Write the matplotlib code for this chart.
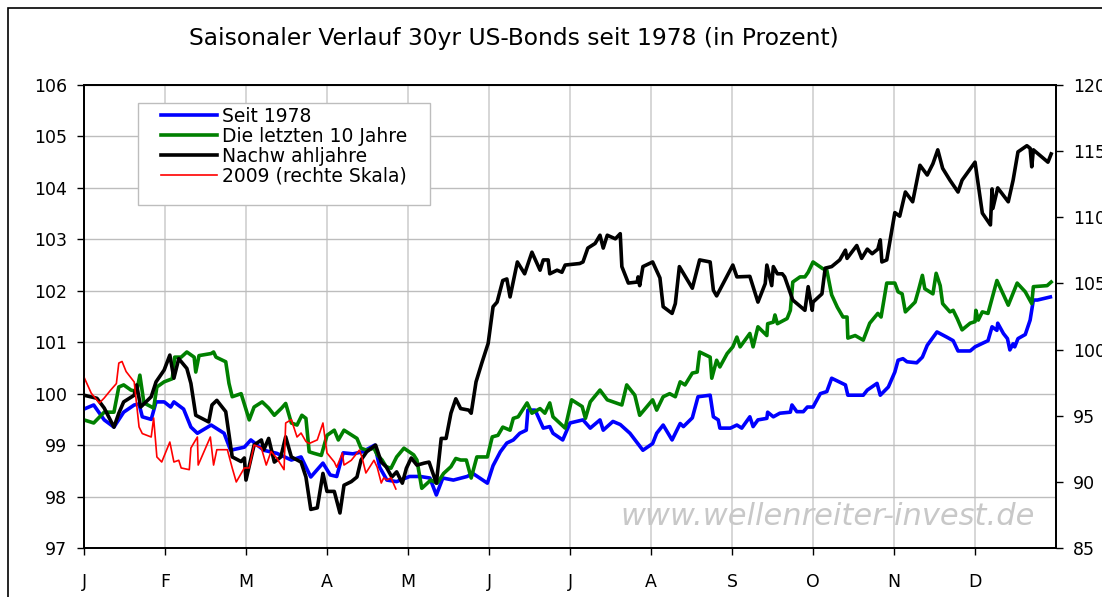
import matplotlib
matplotlib.use("Agg")
import matplotlib.pyplot as plt
from matplotlib.patches import Rectangle

# x values are in months since 1 January (0 = Jan 1, 12 = Dec 31)
months = ["J", "F", "M", "A", "M", "J", "J", "A", "S", "O", "N", "D"]

seit1978_x = [0.00, 0.12, 0.25, 0.37, 0.49, 0.62, 0.68, 0.72, 0.83, 0.89,
              0.99, 1.07, 1.11, 1.23, 1.32, 1.40, 1.57, 1.73, 1.81, 1.98,
              2.06, 2.22, 2.38, 2.56, 2.68, 2.80, 2.95, 3.04, 3.12, 3.20,
              3.32, 3.44, 3.59, 3.65, 3.74, 3.86, 4.02, 4.15, 4.27, 4.35,
              4.43, 4.56, 4.73, 4.80, 4.98, 5.05, 5.14, 5.22, 5.30, 5.38,
              5.46, 5.48, 5.57, 5.67, 5.75, 5.79, 5.91, 6.00, 6.16, 6.25,
              6.37, 6.41, 6.53, 6.62, 6.74, 6.90, 7.02, 7.07, 7.15, 7.26,
              7.36, 7.40, 7.51, 7.58, 7.73, 7.77, 7.83, 7.85, 7.98, 8.06,
              8.12, 8.22, 8.26, 8.32, 8.43, 8.44, 8.51, 8.59, 8.72, 8.74,
              8.80, 8.88, 8.93, 9.00, 9.09, 9.17, 9.23, 9.40, 9.43, 9.62,
              9.67, 9.79, 9.83, 9.93, 10.01, 10.05, 10.11, 10.16, 10.28, 10.35,
              10.41, 10.53, 10.65, 10.73, 10.79, 10.94, 11.00, 11.16, 11.21, 11.27,
              11.28, 11.35, 11.40, 11.43, 11.47, 11.49, 11.53, 11.62, 11.68, 11.72,
              11.77, 11.93]
seit1978_y = [99.70, 99.78, 99.49, 99.35, 99.64, 99.78, 99.80, 99.55, 99.50, 99.84,
              99.84, 99.74, 99.84, 99.70, 99.35, 99.23, 99.39, 99.23, 98.90, 98.96,
              99.10, 98.90, 98.84, 98.71, 98.77, 98.38, 98.65, 98.42, 98.39, 98.85,
              98.83, 98.87, 99.00, 98.57, 98.32, 98.29, 98.39, 98.39, 98.36, 98.03,
              98.36, 98.32, 98.39, 98.45, 98.26, 98.60, 98.87, 99.04, 99.10, 99.23,
              99.29, 99.68, 99.68, 99.33, 99.36, 99.23, 99.10, 99.43, 99.49, 99.33,
              99.49, 99.29, 99.46, 99.40, 99.23, 98.90, 99.03, 99.23, 99.39, 99.10,
              99.42, 99.36, 99.53, 99.94, 99.97, 99.55, 99.49, 99.33, 99.33, 99.39,
              99.33, 99.55, 99.36, 99.49, 99.52, 99.64, 99.55, 99.62, 99.64, 99.78,
              99.65, 99.65, 99.74, 99.74, 100.00, 100.04, 100.30, 100.17, 99.97, 99.97,
              100.07, 100.20, 99.97, 100.13, 100.42, 100.65, 100.68, 100.62, 100.60, 100.71,
              100.94, 101.20, 101.10, 101.03, 100.83, 100.83, 100.91, 101.03, 101.30, 101.23,
              101.37, 101.17, 101.07, 100.85, 100.97, 100.91, 101.07, 101.15, 101.43, 101.82,
              101.82, 101.88]

zehn_x = [0.00, 0.12, 0.25, 0.37, 0.43, 0.49, 0.58, 0.65, 0.69, 0.74,
          0.86, 0.90, 0.99, 1.09, 1.12, 1.20, 1.27, 1.36, 1.38, 1.42,
          1.57, 1.60, 1.63, 1.75, 1.79, 1.83, 1.94, 2.04, 2.10, 2.20,
          2.28, 2.35, 2.44, 2.49, 2.56, 2.63, 2.69, 2.74, 2.78, 2.84,
          2.93, 3.00, 3.09, 3.14, 3.21, 3.37, 3.42, 3.49, 3.58, 3.62,
          3.68, 3.73, 3.79, 3.86, 3.95, 4.07, 4.11, 4.17, 4.28, 4.36,
          4.44, 4.53, 4.59, 4.65, 4.72, 4.78, 4.85, 4.98, 5.04, 5.11,
          5.17, 5.26, 5.30, 5.36, 5.47, 5.53, 5.63, 5.69, 5.75, 5.79,
          5.94, 6.02, 6.15, 6.19, 6.25, 6.37, 6.46, 6.64, 6.70, 6.80,
          6.86, 6.95, 7.02, 7.07, 7.15, 7.23, 7.30, 7.36, 7.42, 7.51,
          7.57, 7.60, 7.73, 7.75, 7.81, 7.85, 7.94, 8.01, 8.06, 8.10,
          8.22, 8.26, 8.32, 8.43, 8.44, 8.51, 8.53, 8.56, 8.68, 8.72,
          8.75, 8.84, 8.90, 8.94, 9.00, 9.12, 9.17, 9.23, 9.30, 9.37,
          9.42, 9.43, 9.52, 9.62, 9.70, 9.80, 9.84, 9.91, 10.01, 10.05,
          10.10, 10.14, 10.26, 10.30, 10.35, 10.38, 10.48, 10.52, 10.57, 10.60,
          10.69, 10.73, 10.78, 10.84, 10.94, 11.00, 11.01, 11.04, 11.09, 11.16,
          11.27, 11.41, 11.52, 11.62, 11.70, 11.72, 11.89, 11.94]
zehn_y = [99.49, 99.43, 99.64, 99.64, 100.13, 100.17, 100.07, 100.04, 100.36, 99.82,
          99.72, 100.13, 100.23, 100.29, 100.71, 100.71, 100.81, 100.71, 100.42, 100.74,
          100.78, 100.81, 100.71, 100.62, 100.20, 99.94, 100.00, 99.49, 99.74, 99.84,
          99.72, 99.58, 99.72, 99.81, 99.43, 99.39, 99.58, 99.52, 98.87, 98.84,
          98.80, 99.19, 99.29, 99.10, 99.29, 99.13, 98.94, 98.90, 98.94, 98.81,
          98.71, 98.58, 98.55, 98.77, 98.94, 98.81, 98.71, 98.16, 98.32, 98.26,
          98.45, 98.58, 98.74, 98.71, 98.71, 98.36, 98.77, 98.77, 99.16, 99.19,
          99.35, 99.29, 99.52, 99.55, 99.82, 99.62, 99.71, 99.62, 99.82, 99.55,
          99.33, 99.88, 99.75, 99.52, 99.84, 100.07, 99.88, 99.78, 100.17, 99.97,
          99.58, 99.75, 99.88, 99.68, 99.94, 100.00, 99.94, 100.23, 100.17, 100.40,
          100.42, 100.81, 100.71, 100.30, 100.65, 100.52, 100.78, 100.91, 101.10, 100.91,
          101.17, 100.91, 101.30, 101.13, 101.36, 101.39, 101.53, 101.36, 101.46, 101.62,
          102.17, 102.27, 102.27, 102.36, 102.56, 102.43, 102.40, 101.92, 101.68, 101.49,
          101.49, 101.08, 101.13, 101.04, 101.37, 101.56, 101.49, 102.15, 102.15, 101.98,
          101.94, 101.59, 101.78, 102.00, 102.30, 102.04, 101.94, 102.34, 102.10, 101.75,
          101.59, 101.62, 101.46, 101.24, 101.37, 101.40, 101.62, 101.43, 101.59, 101.56,
          102.20, 101.72, 102.15, 101.98, 101.75, 102.08, 102.10, 102.17]

wahl_x = [0.00, 0.16, 0.25, 0.37, 0.43, 0.49, 0.62, 0.65, 0.70, 0.83,
          0.89, 0.99, 1.06, 1.11, 1.17, 1.27, 1.32, 1.38, 1.54, 1.58,
          1.64, 1.75, 1.83, 1.94, 1.98, 2.00, 2.10, 2.19, 2.22, 2.28,
          2.35, 2.43, 2.49, 2.56, 2.68, 2.74, 2.80, 2.88, 2.95, 3.00,
          3.09, 3.16, 3.21, 3.30, 3.37, 3.42, 3.49, 3.60, 3.67, 3.73,
          3.80, 3.86, 3.93, 3.98, 4.04, 4.11, 4.20, 4.26, 4.35, 4.41,
          4.47, 4.53, 4.59, 4.65, 4.75, 4.78, 4.84, 4.91, 4.99, 5.05,
          5.10, 5.17, 5.22, 5.26, 5.35, 5.44, 5.53, 5.63, 5.67, 5.73,
          5.75, 5.84, 5.90, 5.94, 6.12, 6.16, 6.22, 6.31, 6.37, 6.41,
          6.46, 6.56, 6.62, 6.64, 6.72, 6.83, 6.84, 6.86, 6.90, 7.02,
          7.11, 7.15, 7.26, 7.30, 7.35, 7.51, 7.60, 7.73, 7.77, 7.81,
          8.01, 8.06, 8.22, 8.32, 8.41, 8.43, 8.49, 8.51, 8.56, 8.62,
          8.65, 8.75, 8.90, 8.94, 8.99, 9.00, 9.11, 9.15, 9.23, 9.33,
          9.40, 9.42, 9.54, 9.60, 9.67, 9.73, 9.80, 9.83, 9.85, 9.91,
          10.01, 10.07, 10.14, 10.23, 10.32, 10.41, 10.48, 10.54, 10.60, 10.69,
          10.79, 10.84, 11.00, 11.09, 11.19, 11.21, 11.22, 11.28, 11.41, 11.47,
          11.53, 11.64, 11.68, 11.70, 11.72, 11.90, 11.94]
wahl_y = [99.97, 99.91, 99.72, 99.35, 99.62, 99.84, 99.97, 100.17, 99.74, 99.94,
          100.23, 100.46, 100.75, 100.30, 100.68, 100.49, 100.20, 99.58, 99.45, 99.78,
          99.87, 99.65, 98.77, 98.68, 98.75, 98.32, 99.00, 99.10, 98.91, 99.13,
          98.67, 98.77, 99.16, 98.77, 98.67, 98.38, 97.75, 97.78, 98.45, 98.10,
          98.10, 97.68, 98.22, 98.29, 98.38, 98.71, 98.87, 99.00, 98.67, 98.58,
          98.38, 98.48, 98.26, 98.55, 98.75, 98.61, 98.65, 98.67, 98.26, 99.13,
          99.13, 99.62, 99.90, 99.71, 99.68, 99.62, 100.23, 100.59, 100.98, 101.69,
          101.78, 102.20, 102.23, 101.88, 102.56, 102.33, 102.75, 102.40, 102.60, 102.60,
          102.33, 102.40, 102.36, 102.50, 102.53, 102.56, 102.83, 102.92, 103.08, 102.83,
          103.08, 103.01, 103.11, 102.47, 102.15, 102.17, 102.27, 102.10, 102.47, 102.56,
          102.25, 101.69, 101.56, 101.75, 102.47, 102.05, 102.60, 102.56, 102.01, 101.90,
          102.50, 102.27, 102.28, 101.78, 102.14, 102.50, 102.10, 102.47, 102.33, 102.33,
          102.27, 101.82, 101.62, 102.08, 101.62, 101.78, 101.94, 102.44, 102.47, 102.60,
          102.79, 102.63, 102.88, 102.63, 102.81, 102.72, 102.81, 102.99, 102.56, 102.60,
          103.52, 103.45, 103.92, 103.73, 104.44, 104.25, 104.47, 104.74, 104.38, 104.15,
          103.92, 104.15, 104.50, 103.51, 103.28, 103.98, 103.60, 104.00, 103.73, 104.15,
          104.70, 104.82, 104.77, 104.41, 104.74, 104.50, 104.66]

# 2009, plotted against the right-hand scale
y2009_x = [0.00, 0.09, 0.19, 0.25, 0.33, 0.40, 0.43, 0.47, 0.52, 0.62,
           0.68, 0.72, 0.83, 0.86, 0.90, 0.96, 1.06, 1.11, 1.17, 1.20,
           1.30, 1.32, 1.40, 1.41, 1.56, 1.60, 1.64, 1.77, 1.83, 1.88,
           1.98, 2.04, 2.10, 2.19, 2.25, 2.31, 2.38, 2.47, 2.49, 2.56,
           2.63, 2.68, 2.74, 2.78, 2.88, 2.95, 3.00, 3.09, 3.12, 3.19,
           3.21, 3.30, 3.40, 3.43, 3.48, 3.52, 3.58, 3.62, 3.67, 3.70,
           3.74, 3.79, 3.85]
y2009_y = [97.92, 96.70, 95.96, 96.34, 96.94, 97.43, 98.98, 99.10, 98.34, 97.55,
           94.15, 93.65, 93.39, 94.83, 91.88, 91.50, 93.01, 91.50, 91.63, 91.05,
           90.92, 92.56, 93.39, 91.27, 93.39, 91.27, 92.43, 92.43, 91.05, 89.99,
           91.05, 91.05, 92.79, 92.56, 91.27, 92.30, 91.79, 90.92, 94.45, 94.70,
           93.39, 93.69, 93.05, 92.90, 93.17, 94.45, 92.18, 91.50, 91.10, 92.18,
           91.27, 91.63, 92.40, 91.90, 90.67, 91.05, 91.63, 91.10, 89.91, 90.30,
           90.15, 90.30, 89.46]

left_ticks = list(range(97, 107))
right_ticks = list(range(85, 121, 5))

fig = plt.figure(figsize=(11.02, 5.97), dpi=100)
ax = fig.add_axes([0.0762, 0.0821, 0.8821, 0.7755])
ax2 = ax.twinx()

ax.plot(seit1978_x, seit1978_y, color="#0000ff", lw=2.6, label="Seit 1978", zorder=3)
ax.plot(zehn_x, zehn_y, color="#008000", lw=2.6, label="Die letzten 10 Jahre", zorder=3)
ax.plot(wahl_x, wahl_y, color="black", lw=2.6, label="Nachw ahljahre", zorder=4)
ax2.plot(y2009_x, y2009_y, color="#ff0000", lw=1.2, label="2009 (rechte Skala)")

ax.set_xlim(0, 12)
ax.set_ylim(97, 106)
ax2.set_ylim(85, 120)
ax.set_yticks(left_ticks)
ax2.set_yticks(right_ticks)
ax.set_xticks(range(12))
ax.set_xticklabels(months)

for a in (ax, ax2):
    for s in a.spines.values():
        s.set_linewidth(1.3)
        s.set_color("black")

ax.grid(axis="y", color="#bdbdbd", lw=1.0, zorder=0)
ax.grid(axis="x", color="#d6d6d6", lw=1.4, zorder=0)
ax.set_axisbelow(True)

ax.tick_params(axis="y", direction="out", length=5, width=1, labelsize=12.5, pad=7)
ax.tick_params(axis="x", direction="out", length=5, width=1, labelsize=12.5, pad=13)
ax2.tick_params(axis="y", direction="out", length=5, width=1, labelsize=12.5, pad=7)

# watermark
ax.text(0.978, 0.067, "www.wellenreiter-invest.de", transform=ax.transAxes,
        ha="right", va="center", fontsize=22, style="italic", color="#c8c8c8", zorder=1)

# legend with its own box
ax2.add_patch(Rectangle((0.0556, 0.7408), 0.3004, 0.2203, transform=ax2.transAxes,
                        facecolor="white", edgecolor="#bdbdbd", lw=1.0, zorder=5))
h1, l1 = ax.get_legend_handles_labels()
h2, l2 = ax2.get_legend_handles_labels()
leg = ax2.legend(h1 + h2, l1 + l2, loc="upper left", bbox_to_anchor=(0.0792, 0.9525),
                 frameon=False, fontsize=13.5, borderpad=0, borderaxespad=0,
                 handlelength=3.0, handletextpad=0.25, labelspacing=0.05)
leg.set_zorder(6)

fig.text(0.466, 0.936, "Saisonaler Verlauf 30yr US-Bonds seit 1978 (in Prozent)",
         ha="center", va="center", fontsize=16.8)

# outer frame of the chart area
fig.add_artist(Rectangle((0.0073, -0.5), 2.0, 1.4866, transform=fig.transFigure,
                         fill=False, edgecolor="black", lw=1.2))

fig.savefig("out.png", dpi=100)
